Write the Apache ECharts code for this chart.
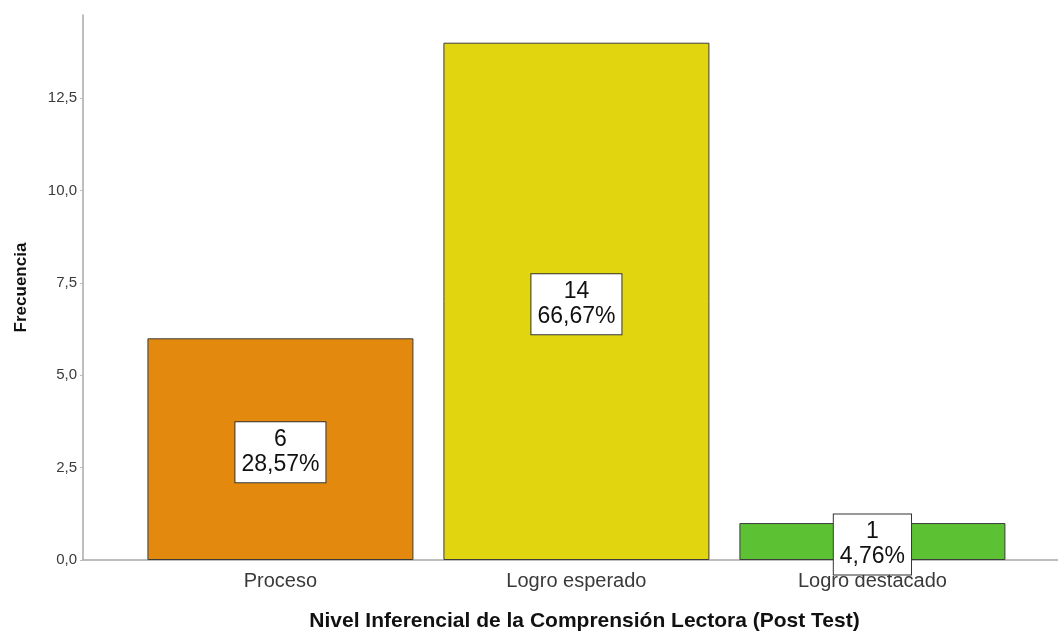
<!DOCTYPE html>
<html>
<head>
<meta charset="utf-8">
<script src="https://cdn.jsdelivr.net/npm/echarts@6/dist/echarts.min.js"></script>
<style>
  html, body { margin: 0; padding: 0; background: #fff; }
  #chart { width: 1058px; height: 633px; }
</style>
</head>
<body>
<div id="chart"></div>
<script>
// Frequencies by inferential comprehension level (post test)
const categories = ['Proceso', 'Logro esperado', 'Logro destacado'];
const frequencies = [6, 14, 1];
const percents = ['28,57%', '66,67%', '4,76%'];
const barColors = ['#e38a0e', '#e1d50f', '#5cc233'];
const yTicks = [0, 2.5, 5, 7.5, 10, 12.5];

const chart = echarts.init(document.getElementById('chart'));

const fmtComma = v => v.toFixed(1).replace('.', ',');
const FONT = 'Liberation Sans, Arial, sans-serif';

chart.setOption({
  animation: false,
  backgroundColor: '#ffffff',
  grid: {
    left: 83, right: 0, top: 15, bottom: 73,
    containLabel: false,
    outerBoundsMode: 'none'
  },
  xAxis: {
    type: 'value',
    min: -0.667,
    max: 2.627,
    name: 'Nivel Inferencial de la Comprensión Lectora (Post Test)',
    nameLocation: 'middle',
    nameGap: 51,
    nameTextStyle: {
      fontFamily: FONT, fontWeight: 'bold', fontSize: 21, color: '#111',
      padding: [0, 0, 0, 28]
    },
    axisLine: { show: true, onZero: false, lineStyle: { color: '#a8a8a8', width: 1.5 } },
    axisTick: { show: false },
    splitLine: { show: false },
    axisLabel: {
      customValues: [0, 1, 2],
      formatter: v => categories[Math.round(v)],
      fontFamily: FONT, fontSize: 20, color: '#3a3a3a', margin: 11
    }
  },
  yAxis: {
    type: 'value',
    min: 0,
    max: 14.75,
    interval: 2.5,
    name: 'Frecuencia',
    nameLocation: 'middle',
    nameGap: 53,
    nameRotate: 90,
    nameTextStyle: {
      fontFamily: FONT, fontWeight: 'bold', fontSize: 17, color: '#111'
    },
    axisLine: { show: true, onZero: false, lineStyle: { color: '#a8a8a8', width: 1.5 } },
    axisTick: { show: true, customValues: yTicks, length: 3, lineStyle: { color: '#bdbdbd' } },
    splitLine: { show: false },
    axisLabel: {
      customValues: yTicks,
      formatter: v => fmtComma(v),
      fontFamily: FONT, fontSize: 15, color: '#3a3a3a', margin: 6
    }
  },
  series: [{
    type: 'bar',
    barWidth: 266,
    data: frequencies.map((v, i) => ({
      value: [i, v],
      itemStyle: { color: barColors[i] }
    })),
    itemStyle: { borderColor: '#3c3c3c', borderWidth: 1 },
    label: {
      show: true,
      position: 'inside',
      offset: [0, 3],
      formatter: p => frequencies[p.dataIndex] + '\n' + percents[p.dataIndex],
      fontFamily: FONT,
      fontSize: 23,
      lineHeight: 25,
      color: '#111',
      backgroundColor: '#ffffff',
      borderColor: '#333',
      borderWidth: 1,
      padding: [5, 6, 5, 6],
      align: 'center'
    }
  }]
});
</script>
</body>
</html>
